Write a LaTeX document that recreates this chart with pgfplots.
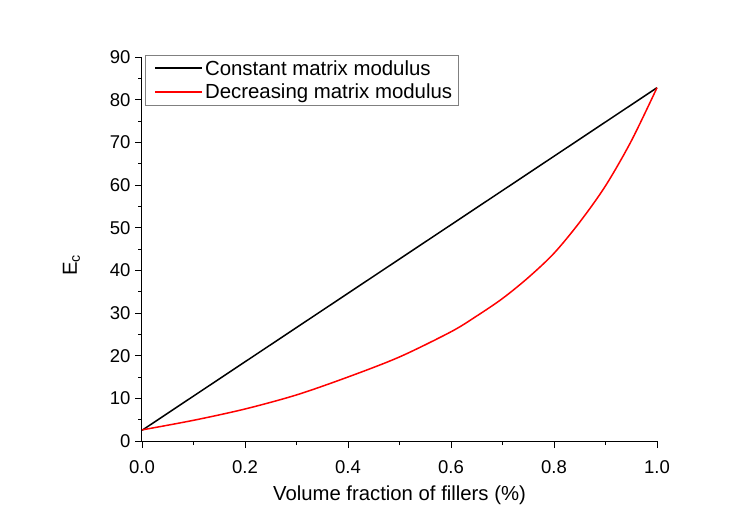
\documentclass[border=0pt]{standalone}
\usepackage{pgfplots}
\pgfplotsset{compat=1.18}
\usepackage{fontspec}
\setmainfont{Liberation Sans}
\begin{document}
\begin{tikzpicture}
\begin{axis}[
  at={(0,0)}, anchor=south west,
  scale only axis, width=515pt, height=384pt,
  xmin=0, xmax=1, ymin=0, ymax=90,
  axis x line*=bottom, axis y line*=left,
  axis line style={line width=1pt},
  tick align=outside,
  major tick length=7pt, minor tick length=4pt,
  tick style={line width=0.9pt, black},
  xtick={0,0.2,0.4,0.6,0.8,1.0},
  minor x tick num=1,
  ytick={0,10,...,90},
  minor y tick num=1,
  xticklabel style={yshift=-9pt, /pgf/number format/.cd, fixed, fixed zerofill, precision=1},
  yticklabel style={xshift=-1pt},
  /pgf/number format/assume math mode=true,
  ticklabel style={font=\fontsize{18.5}{22}\selectfont},
  xlabel={Volume fraction of fillers (\%)},
  ylabel={E\textsubscript{c}},
  label style={font=\fontsize{20.3}{24}\selectfont},
  xlabel style={at={(axis description cs:0.5,-0.156)}, anchor=base},
  ylabel style={at={(axis description cs:-0.137,0.458)}, anchor=center, rotate=0},
  legend style={at={(axis description cs:0.006,1.005)}, anchor=north west,
    draw=gray, fill=white,
    font=\fontsize{20.4}{22}\selectfont, inner xsep=4pt, inner ysep=3pt, row sep=3pt,
    nodes={inner sep=2pt},
    cells={anchor=west}},
  legend image code/.code={\path (0pt,0pt); \draw[#1, line width=2pt] (5pt,0pt) -- (52pt,0pt);},
  clip=false,
]
\addplot[color=black, line width=1.5pt] coordinates {(0,2.5) (1,82.8)};
\addlegendentry{Constant matrix modulus}
\addplot[color=red, line width=1.5pt, smooth] coordinates {
(0,2.6) (0.1,4.85) (0.2,7.5) (0.3,10.8) (0.4,15.0) (0.5,19.7)
(0.6,25.6) (0.65,29.3) (0.7,33.4) (0.75,38.3) (0.8,44.0) (0.85,51.3)
(0.9,59.8) (0.95,70.3) (1.0,82.8)};
\addlegendentry{Decreasing matrix modulus}
\end{axis}
\pgfresetboundingbox
\path (-142pt,-84pt) rectangle (607pt,441pt);
\end{tikzpicture}
\end{document}
